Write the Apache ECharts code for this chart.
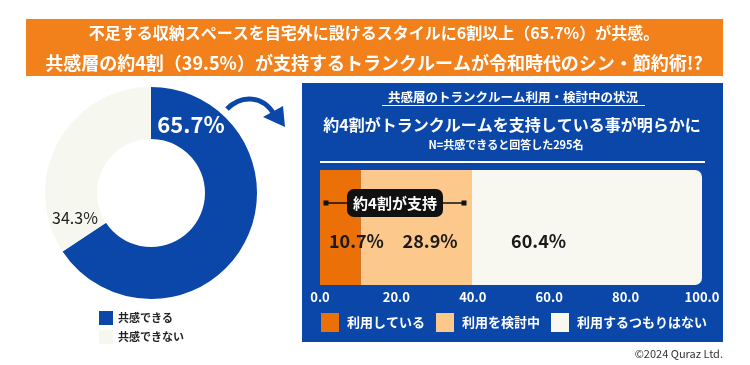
<!DOCTYPE html>
<html><head><meta charset="utf-8">
<script src="https://cdn.jsdelivr.net/npm/echarts@6/dist/echarts.min.js"></script>
<style>html,body{margin:0;padding:0;background:#fff}#c{width:750px;height:365px}</style>
</head><body><div id="c"></div>
<script>
const titleLines = ['不足する収納スペースを自宅外に設けるスタイルに6割以上（65.7%）が共感。', '共感層の約4割（39.5%）が支持するトランクルームが令和時代のシン・節約術!?'];
const pieNames = ['共感できる', '共感できない'];
const pieValues = [65.7, 34.3];
const barNames = ['利用している', '利用を検討中', '利用するつもりはない'];
const barValues = [10.7, 28.9, 60.4];
const panelTitle = '共感層のトランクルーム利用・検討中の状況';
const panelHead = '約4割がトランクルームを支持している事が明らかに';
const panelNote = 'N=共感できると回答した295名';
const calloutText = '約4割が支持';
const copyright = '©2024 Quraz Ltd.';

const FONT = '"Noto Sans CJK JP", "Noto Sans", sans-serif';
const BLUE = '#0b47a9';
const pieColors = [BLUE, '#f6f7ef'];
const barColors = ['#ea7007', '#fdc88c', '#f8f8f1'];
const labelOffsets = [[16, 14], [14, 14], [-48, 14]];

const chart = echarts.init(document.getElementById('c'), null, {renderer: 'canvas'});

const barSeries = barNames.map((n, i) => ({
  type: 'bar', name: n, stack: 's', xAxisIndex: 0, yAxisIndex: 0,
  barWidth: '100%',
  data: [barValues[i]],
  itemStyle: {color: barColors[i], borderRadius: i === 2 ? [0, 7, 7, 0] : 0},
  label: {show: true, position: 'inside', offset: labelOffsets[i], formatter: p => p.value.toFixed(1) + '%',
    color: '#1a1a1a', fontSize: 18, fontWeight: 'bold', fontFamily: FONT},
  emphasis: {disabled: true}, silent: true, z: 3
}));

const option = {
  animation: false,
  textStyle: {fontFamily: FONT},
  grid: [{left: 320, width: 382, top: 170, height: 115}],
  xAxis: [{type: 'value', min: 0, max: 100, interval: 20,
    axisLine: {show: false}, axisTick: {show: false}, splitLine: {show: false},
    axisLabel: {color: '#fff', fontSize: 13, fontWeight: 'bold', fontFamily: FONT, margin: 6, formatter: v => v.toFixed(1)}}],
  yAxis: [{type: 'category', data: [''], show: false}],
  legend: [
    {data: pieNames, left: 99, top: 311, padding: 0, orient: 'vertical', itemWidth: 14, itemHeight: 14, itemGap: 5,
      icon: 'rect', selectedMode: false,
      textStyle: {fontSize: 11, fontWeight: 'bold', color: '#222', fontFamily: FONT, padding: [0, 0, 0, 0]}},
    {data: barNames, left: 321, top: 313, padding: 0, orient: 'horizontal', itemWidth: 18, itemHeight: 19, itemGap: 11,
      icon: 'rect', selectedMode: false,
      textStyle: {fontSize: 13, fontWeight: 'bold', color: '#fff', fontFamily: FONT, padding: [0, 0, 0, 3]}}
  ],
  series: [
    {type: 'pie', center: [151, 193], radius: [54, 106], startAngle: 90, clockwise: true,
      data: pieNames.map((n, i) => ({name: n, value: pieValues[i], itemStyle: {color: pieColors[i]},
        label: i === 0 ? {color: '#fff', fontSize: 22, fontWeight: 'bold'} : {color: '#222', fontSize: 16, fontWeight: 'normal'}})),
      label: {show: true, position: 'inside', formatter: p => p.value.toFixed(1) + '%', fontFamily: FONT},
      labelLayout: p => p.dataIndex === 0 ? {x: 191, y: 125, align: 'center', verticalAlign: 'middle', hideOverlap: false}
                                         : {x: 75, y: 218, align: 'center', verticalAlign: 'middle', hideOverlap: false},
      labelLine: {show: false}, emphasis: {disabled: true}, silent: true, z: 2},
    ...barSeries
  ],
  graphic: [
    {type: 'rect', shape: {x: 26, y: 19, width: 697, height: 57}, style: {fill: '#f2801b'}, z: 0},
    {type: 'text', x: 374, y: 33, style: {text: titleLines[0], fill: '#fff', font: 'bold 16px ' + FONT, textAlign: 'center', textVerticalAlign: 'middle'}, z: 1},
    {type: 'text', x: 374, y: 63, style: {text: titleLines[1], fill: '#fff', font: 'bold 18px ' + FONT, textAlign: 'center', textVerticalAlign: 'middle'}, z: 1},
    {type: 'rect', shape: {x: 302, y: 83, width: 421, height: 259}, style: {fill: BLUE}, z: -1, zlevel: 0},
    {type: 'text', x: 513, y: 97, style: {text: panelTitle, fill: '#fff', font: 'bold 12.5px ' + FONT, textAlign: 'center', textVerticalAlign: 'middle'}, z: 1},
    {type: 'line', shape: {x1: 382, y1: 105.5, x2: 645, y2: 105.5}, style: {stroke: '#fff', lineWidth: 1}, z: 1},
    {type: 'text', x: 512, y: 125, style: {text: panelHead, fill: '#fff', font: 'bold 16px ' + FONT, textAlign: 'center', textVerticalAlign: 'middle'}, z: 1},
    {type: 'text', x: 506, y: 145, style: {text: panelNote, fill: '#fff', font: 'bold 11px ' + FONT, textAlign: 'center', textVerticalAlign: 'middle'}, z: 1},
    {type: 'line', shape: {x1: 320, y1: 162, x2: 705, y2: 162}, style: {stroke: '#fff', lineWidth: 2}, z: 1},
    {type: 'line', shape: {x1: 326, y1: 203, x2: 464, y2: 203}, style: {stroke: '#111', lineWidth: 1.5}, z: 10},
    {type: 'rect', shape: {x: 323.5, y: 200.5, width: 5, height: 5}, style: {fill: '#111'}, z: 10},
    {type: 'rect', shape: {x: 461.5, y: 200.5, width: 5, height: 5}, style: {fill: '#111'}, z: 10},
    {type: 'rect', shape: {x: 347, y: 189, width: 96, height: 28, r: 7}, style: {fill: '#111'}, z: 11},
    {type: 'text', x: 395, y: 203, style: {text: calloutText, fill: '#fff', font: 'bold 15px ' + FONT, textAlign: 'center', textVerticalAlign: 'middle'}, z: 12},
    {type: 'bezierCurve', shape: {x1: 227, y1: 109, cpx1: 242, cpy1: 94, cpx2: 263, cpy2: 96, x2: 274, y2: 114}, style: {stroke: BLUE, lineWidth: 5, fill: null}, z: 5},
    {type: 'polygon', shape: {points: [[263, 117], [283, 106], [285, 127]]}, style: {fill: BLUE}, z: 5},
    {type: 'text', x: 723, y: 354, style: {text: copyright, fill: '#333', font: '11px ' + FONT, textAlign: 'right', textVerticalAlign: 'middle'}, z: 1}
  ]
};
chart.setOption(option);
</script></body></html>
